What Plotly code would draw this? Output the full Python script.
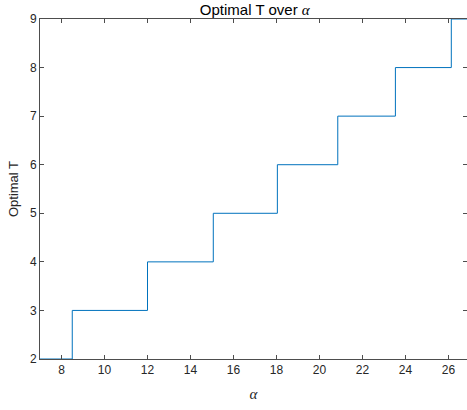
import plotly.graph_objects as go

# Step breakpoints (alpha where optimal T changes) and the T values
alpha = [7.0, 8.5, 12.0, 15.06, 18.04, 20.85, 23.53, 26.13, 26.9]
optimal_T = [2, 3, 4, 5, 6, 7, 8, 9, 9]

x_ticks = [8, 10, 12, 14, 16, 18, 20, 22, 24, 26]
y_ticks = [2, 3, 4, 5, 6, 7, 8, 9]

fig = go.Figure()
fig.add_trace(go.Scatter(
    x=alpha, y=optimal_T, mode="lines", line_shape="hv",
    line=dict(color="#0072BD", width=1), showlegend=False,
))

axis_common = dict(
    showgrid=False, zeroline=False, showline=True, linecolor="#4d4d4d", linewidth=1,
    mirror="ticks", ticks="inside", ticklen=4, tickcolor="#4d4d4d", tickwidth=1,
    tickfont=dict(family="Liberation Sans, Arial", size=12, color="#262626"),
)

fig.update_layout(
    width=467, height=410,
    margin=dict(l=40, r=0, t=19, b=51),
    paper_bgcolor="white", plot_bgcolor="white",
    title=dict(
        text="Optimal T over <span style='font-family:Liberation Serif, Times New Roman'><i>α</i></span>",
        x=0.503, xanchor="center", xref="paper", y=0.99, yanchor="top",
        font=dict(family="Liberation Sans, Arial", size=15, color="#000000"),
    ),
    xaxis=dict(
        range=[7, 26.86], tickvals=x_ticks, ticktext=[str(v) for v in x_ticks],
        title=dict(text="<i>α</i>", standoff=12,
                   font=dict(family="Liberation Serif, Times New Roman", size=15, color="#262626")),
        **axis_common,
    ),
    yaxis=dict(
        range=[2, 9], tickvals=y_ticks, ticktext=[str(v) for v in y_ticks],
        title=dict(text="Optimal T", standoff=8,
                   font=dict(family="Liberation Sans, Arial", size=13, color="#262626")),
        **axis_common,
    ),
)

fig.write_html(
    "out.html",
    config={"displayModeBar": False},
    post_script="document.body.style.margin='0';document.body.style.padding='0';document.body.style.overflow='hidden';",
)
